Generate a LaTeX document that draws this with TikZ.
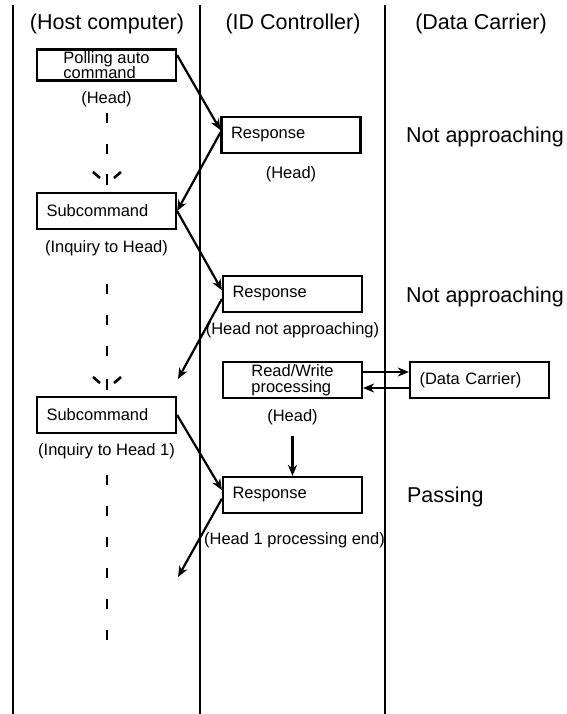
\documentclass[tikz,border=0pt]{standalone}
\usepackage{fontspec}
\setmainfont{Liberation Sans}
\usetikzlibrary{positioning}
\usetikzlibrary{arrows.meta}

\begin{document}
\begin{tikzpicture}[x=1pt, y=-1pt, black, line width=2.2pt,
    box/.style={draw, minimum width=139pt, minimum height=36pt, inner sep=0pt, align=left, font=\fontsize{16.5}{15.5}\selectfont},
    lbox/.style={box, text width=120pt, inner xsep=9.5pt},
    lbl/.style={inner sep=0pt, font=\fontsize{16.5}{18}\selectfont},
    big/.style={inner sep=0pt, font=\fontsize{21.5}{24}\selectfont},
    msg/.style={-{Stealth[length=11pt, width=9pt]}},
    life/.style={line width=2.8pt, dash pattern=on 10pt off 21pt}]

    \useasboundingbox (0,0) rectangle (566,714);

    % lanes
    \draw (13,5) -- (13,714);
    \draw (200,5) -- (200,714);
    \draw (385,5) -- (385,714);

    \node[big] (host) at (107,24) {(Host computer)};
    \node[big] (ctrl) at (293,24) {(ID Controller)};
    \node[big] (carrier) at (481,24) {(Data Carrier)};

    % boxes
    \node[box, minimum height=31pt] (poll) at (106.5,65) {Polling auto\\command};
    \node[lbox] (resp1) at (291,135) {Response};
    \node[lbox] (sub1) at (106.5,211) {Subcommand};
    \node[lbox] (resp2) at (292.5,294) {Response};
    \node[box] (rw) at (292.5,380) {Read/Write\\processing};
    \node[lbox] (dc) at (479.5,380) {(Data Carrier)};
    \node[lbox] (sub3) at (106.5,415) {Subcommand};
    \node[lbox] (resp3) at (292.5,495) {Response};

    \begin{scope}[on grid]
        \node[lbl, below=34pt of poll] (headA) {(Head)};
        \node[lbl, below=39pt of resp1] (headB) {(Head)};
        \node[lbl, below=37.5pt of sub1] (inq1) {(Inquiry to Head)};
        \node[lbl, below=36pt of resp2] (headNA) {(Head not approaching)};
        \node[lbl, below=37pt of rw] (headC) {(Head)};
        \node[lbl, below=36.5pt of sub3] (inq2) {(Inquiry to Head 1)};
        \node[lbl, below=45pt of resp3, xshift=2pt] (headEnd) {(Head 1 processing end)};
    \end{scope}

    \node[big, anchor=west] (na1) at (405,137) {Not approaching};
    \node[big, anchor=west] (na2) at (405,297) {Not approaching};
    \node[big, anchor=west] (pass) at (406,497) {Passing};

    \coordinate (free1) at (178,379);
    \coordinate (free2) at (178,577);

    % messages
    \draw[msg] (poll.8) -- (resp1.176);
    \draw[msg] (resp1.178) -- (sub1.east);
    \draw[msg] (sub1.east) -- (resp2.177);
    \draw[msg] (resp2.184) -- (free1);
    \draw[msg] ([yshift=8pt]rw.east) -- ([yshift=8pt]dc.west);
    \draw[msg] ([yshift=-8pt]dc.west) -- ([yshift=-8pt]rw.east);
    \draw[msg] ([yshift=-10pt]headC.south) -- (resp3.north);
    \draw[msg] (sub3.east) -- (resp3.176);
    \draw[msg] (resp3.183) -- (free2);

    % host lifeline
    \draw[life] (107,113) -- (107,156);
    \draw[life] (107,284) -- (107,359);
    \draw[life] (107,475) -- (107,640);
    \foreach \yb in {185,390} {
        \draw[line width=2.8pt] (107,\yb-11) -- (107,\yb);
        \draw[line width=2.6pt] (93,\yb-13) -- (100,\yb-7);
        \draw[line width=2.6pt] (114,\yb-7) -- (121,\yb-13);
    }

\end{tikzpicture}
\end{document}
